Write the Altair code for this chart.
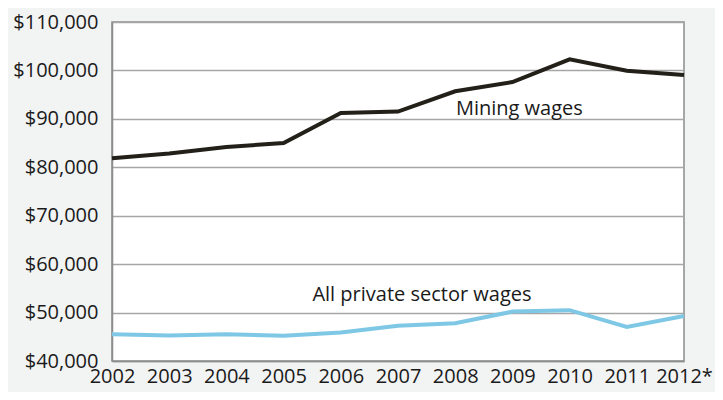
import altair as alt
import pandas as pd

years = ["2002", "2003", "2004", "2005", "2006", "2007", "2008", "2009", "2010", "2011", "2012*"]
mining = [81850, 82850, 84200, 85000, 91200, 91500, 95700, 97600, 102300, 99950, 99050]
private = [45500, 45250, 45500, 45200, 45900, 47300, 47800, 50200, 50500, 47050, 49300]

label_text = ["Mining wages", "All private sector wages"]
label_year = ["2009", "2007"]
label_value = [92000, 53600]

df = pd.DataFrame({
    "year": years * 2,
    "wage": mining + private,
    "series": ["Mining wages"] * len(years) + ["All private sector wages"] * len(years),
})
labels = pd.DataFrame({"year": label_year, "wage": label_value, "text": label_text})

FONT = "Open Sans"
TXT = "#1a1a1a"

x = alt.X("year:N", sort=years, title=None,
          scale=alt.Scale(type="point", padding=0),
          axis=alt.Axis(labelAngle=0, ticks=False, grid=False, labelPadding=5,
                        labelFontSize=20, labelColor=TXT, domainColor="#8c8c8c",
                        domainWidth=1.5, labelFont=FONT))
y = alt.Y("wage:Q", title=None,
          scale=alt.Scale(domain=[40000, 110000], nice=False, zero=False),
          axis=alt.Axis(values=list(range(40000, 110001, 10000)), format="$,.0f", ticks=False,
                        labelPadding=14, labelFontSize=20, labelColor=TXT,
                        gridColor="#a6a6a6", gridWidth=1.5, domainColor="#8c8c8c",
                        domainWidth=1.5, labelFont=FONT))

lines = alt.Chart(df).mark_line(strokeWidth=4).encode(
    x=x, y=y,
    color=alt.Color("series:N", legend=None,
                    scale=alt.Scale(domain=["Mining wages", "All private sector wages"],
                                    range=["#231f19", "#7ec8e6"])),
)

text_m = alt.Chart(labels.iloc[[0]]).mark_text(fontSize=20, font=FONT, color=TXT,
                                                 align="center", baseline="middle", dx=7).encode(
    x=alt.X("year:N", sort=years), y=alt.Y("wage:Q"), text="text:N")
text_p = alt.Chart(labels.iloc[[1]]).mark_text(fontSize=20, font=FONT, color=TXT,
                                                 align="center", baseline="middle", dx=24).encode(
    x=alt.X("year:N", sort=years), y=alt.Y("wage:Q"), text="text:N")

chart = alt.layer(lines, text_m, text_p).properties(
    width=572, height=339,
    autosize=alt.AutoSizeParams(type="none"),
    padding={"left": 104, "top": 14, "right": 31, "bottom": 31},
    background="#f2f3f3",
).configure_view(fill="white", stroke="#8c8c8c", strokeWidth=1.5)

chart.save("out.html", embed_options={"renderer": "svg", "actions": False})
